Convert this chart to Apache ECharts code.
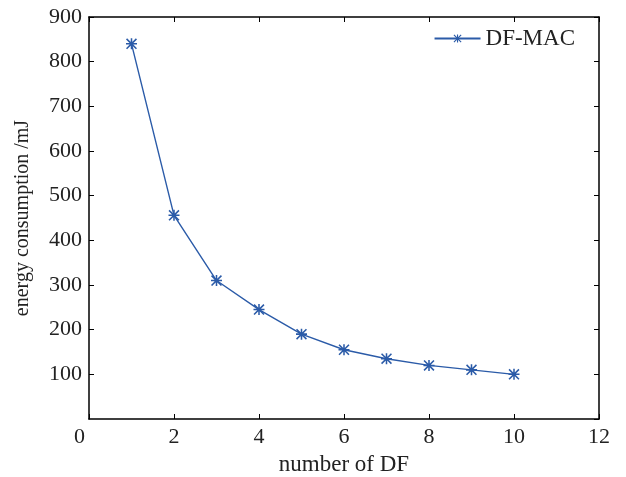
<!DOCTYPE html>
<html><head><meta charset="utf-8">
<script src="https://cdn.jsdelivr.net/npm/echarts@6/dist/echarts.min.js"></script>
<style>html,body{margin:0;padding:0;background:#fff}#c{width:626px;height:477px}</style>
</head><body><div id="c"></div>
<script>
const xValues = [1, 2, 3, 4, 5, 6, 7, 8, 9, 10];
const energy = [840, 456, 310, 245, 190, 155, 135, 120, 110, 100];
const seriesName = 'DF-MAC';
const xLabel = 'number of DF';
const yLabel = 'energy consumption /mJ';

const asterisk = 'path://M8.6 0H11.4V20H8.6Z M0 8.6H20V11.4H0Z M2 0L20 18L18 20L0 2Z M18 0L20 2L2 20L0 18Z';
const font = 'Liberation Serif';
const lineColor = '#2b5ba8';
const axisLine = {show: true, onZero: false, lineStyle: {color: '#000', width: 1.5}};
const tick = {show: true, inside: true, length: 5, lineStyle: {color: '#000', width: 1}};

const chart = echarts.init(document.getElementById('c'), null, {renderer: 'canvas'});
chart.setOption({
  animation: false,
  backgroundColor: '#fff',
  grid: {left: 89, right: 27, top: 17, bottom: 58, containLabel: false, outerBoundsMode: 'none'},
  legend: {
    data: [seriesName], right: 46, top: 22, itemWidth: 46, itemHeight: 10, itemGap: 5,
    textStyle: {fontFamily: font, fontSize: 23, color: '#222'}
  },
  xAxis: [
    {type: 'value', min: 0, max: 12, interval: 2, position: 'bottom',
     axisLine: axisLine, axisTick: tick, splitLine: {show: false},
     axisLabel: {fontFamily: font, fontSize: 22, color: '#222', margin: 7,
       formatter: v => v === 0 ? '{z|0}' : String(v),
       rich: {z: {fontFamily: font, fontSize: 22, color: '#222', padding: [0, 19, 0, 0]}}},
     name: xLabel, nameLocation: 'middle', nameGap: 34,
     nameTextStyle: {fontFamily: font, fontSize: 23, color: '#222'}},
    {type: 'value', min: 0, max: 12, interval: 2, position: 'top',
     axisLine: axisLine, axisTick: tick, splitLine: {show: false}, axisLabel: {show: false}}
  ],
  yAxis: [
    {type: 'value', min: 0, max: 900, interval: 100, position: 'left',
     axisLine: axisLine, axisTick: tick, splitLine: {show: false},
     axisLabel: {fontFamily: font, fontSize: 22, color: '#222', margin: 7, showMinLabel: false},
     name: yLabel, nameLocation: 'middle', nameGap: 56, nameRotate: 90,
     nameTextStyle: {fontFamily: font, fontSize: 20, color: '#222'}},
    {type: 'value', min: 0, max: 900, interval: 100, position: 'right',
     axisLine: axisLine, axisTick: tick, splitLine: {show: false}, axisLabel: {show: false}}
  ],
  series: [{
    name: seriesName, type: 'line',
    data: xValues.map((x, i) => [x, energy[i]]),
    symbol: asterisk, symbolSize: 11,
    lineStyle: {color: lineColor, width: 1.4},
    itemStyle: {color: lineColor},
    emphasis: {disabled: true}
  }]
});
</script></body></html>
